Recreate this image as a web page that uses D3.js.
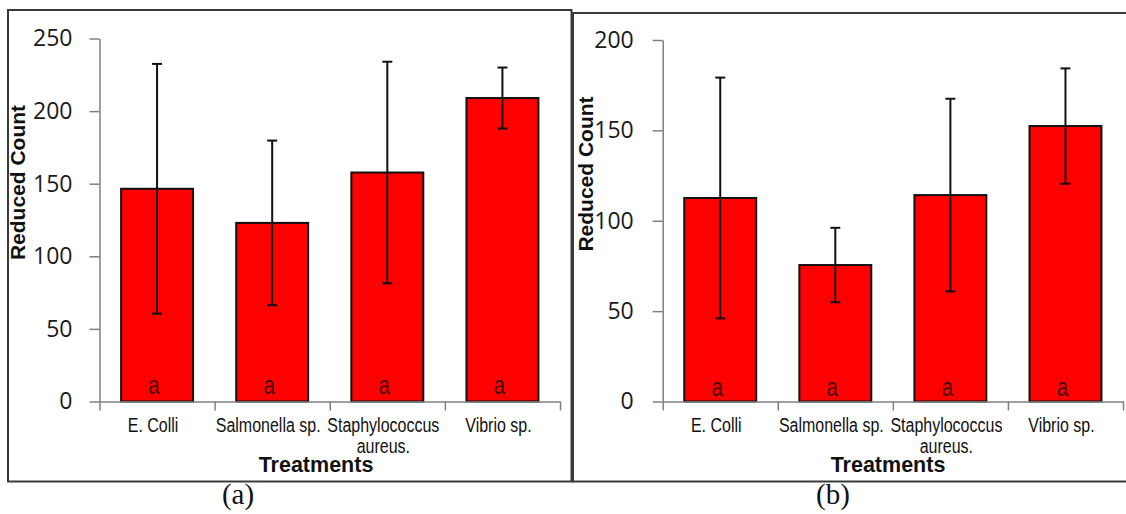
<!DOCTYPE html>
<html>
<head>
<meta charset="utf-8">
<script src="https://cdn.jsdelivr.net/npm/d3@7"></script>
<style>
body { margin: 0; background: #fff; }
svg { display: block; }
</style>
</head>
<body>
<svg id="chart" width="1126" height="514"></svg>
<script>
// data
var categories = ["E. Colli", "Salmonella sp.", "Staphylococcus aureus.", "Vibrio sp."];
var categoryLines = [["E. Colli"], ["Salmonella sp."], ["Staphylococcus", "aureus."], ["Vibrio sp."]];
var groupLetters = ["a", "a", "a", "a"];

var meansA = [146.5, 123, 157.7, 209];
var errorsA = [86, 56.7, 76.3, 21];
var ticksA = [0, 50, 100, 150, 200, 250];

var meansB = [112.6, 75.5, 114.2, 152.4];
var errorsB = [66.6, 20.6, 53.3, 31.9];
var ticksB = [0, 50, 100, 150, 200];

var svg = d3.select('#chart');
svg.append('rect').attr('width', 1126).attr('height', 514).attr('fill', '#fff');

var axisColor = '#808080';
// the labels in the figure use a condensed sans; squeeze a normal one
var narrow = 0.82;

function drawPanel(means, errs, ticks, p) {
    var g = svg.append('g');
    var y = d3.scaleLinear().domain([0, d3.max(ticks)]).range([p.y0, p.y1]);
    var x = d3.scaleBand().domain(categories).range([p.x0, p.x1])
        .paddingInner(0.375).paddingOuter(0.1875);
    var edges = d3.scaleLinear().domain([0, categories.length]).range([p.x0, p.x1]);

    // frame
    g.append('rect')
        .attr('x', p.frame[0]).attr('y', p.frame[1])
        .attr('width', p.frame[2]).attr('height', p.frame[3])
        .attr('fill', 'none').attr('stroke', '#3a3a3a').attr('stroke-width', 2);

    // y axis
    var ya = g.append('g')
        .attr('transform', 'translate(' + p.x0 + ',0)')
        .call(d3.axisLeft(y).tickValues(ticks).tickSize(10).tickSizeOuter(0)
            .tickPadding(p.tickPad).tickFormat(d3.format('d')));
    ya.select('.domain').attr('stroke', axisColor).attr('stroke-width', 1.5);
    ya.selectAll('.tick line').attr('stroke', axisColor).attr('stroke-width', 1.5);
    ya.selectAll('.tick text')
        .attr('fill', '#1a1a1a')
        .style('font-family', '"Open Sans", "Noto Sans", sans-serif')
        .style('font-size', '23px');

    // bars
    g.selectAll('rect.bar').data(means).enter().append('rect')
        .attr('class', 'bar')
        .attr('x', function (d, i) { return x(categories[i]); })
        .attr('y', function (d) { return y(d); })
        .attr('width', x.bandwidth())
        .attr('height', function (d) { return y(0) - y(d); })
        .attr('fill', '#ff0000')
        .attr('stroke', '#111')
        .attr('stroke-width', 2);

    // letters inside bars
    g.selectAll('text.grp').data(groupLetters).enter().append('text')
        .attr('class', 'grp')
        .attr('transform', function (d, i) {
            var cx = x(categories[i]) + x.bandwidth() / 2 - 3;
            return 'translate(' + cx + ',' + (p.y0 - p.letterLift) + ') scale(' + narrow + ',1)';
        })
        .attr('text-anchor', 'middle')
        .attr('fill', '#4a0606')
        .style('font-family', '"Liberation Sans", Arial, sans-serif')
        .style('font-size', '25px')
        .text(function (d) { return d; });

    // error bars
    var eb = g.selectAll('g.err').data(means).enter().append('g')
        .attr('class', 'err')
        .attr('stroke', '#111').attr('stroke-width', 2);
    eb.each(function (d, i) {
        var cx = x(categories[i]) + x.bandwidth() / 2;
        var lo = y(d - errs[i]), hi = y(d + errs[i]);
        var e = d3.select(this);
        e.append('line').attr('x1', cx).attr('x2', cx).attr('y1', lo).attr('y2', hi);
        e.append('line').attr('x1', cx - 5).attr('x2', cx + 5).attr('y1', lo).attr('y2', lo);
        e.append('line').attr('x1', cx - 5).attr('x2', cx + 5).attr('y1', hi).attr('y2', hi);
    });

    // x axis with ticks between categories
    var xa = g.append('g')
        .attr('transform', 'translate(0,' + p.y0 + ')')
        .call(d3.axisBottom(edges).tickValues(d3.range(0, categories.length + 1))
            .tickSize(9).tickSizeOuter(0).tickFormat(''));
    xa.select('.domain').attr('stroke', axisColor).attr('stroke-width', 1.5);
    xa.selectAll('.tick line').attr('stroke', axisColor).attr('stroke-width', 1.5);

    // category labels
    g.selectAll('text.cat').data(categoryLines).enter().append('text')
        .attr('class', 'cat')
        .attr('transform', function (d, i) {
            var cx = x(categories[i]) + x.bandwidth() / 2 - 4;
            return 'translate(' + cx + ',431.5) scale(' + narrow + ',1)';
        })
        .attr('text-anchor', 'middle')
        .attr('fill', '#111')
        .style('font-family', '"Liberation Sans", Arial, sans-serif')
        .style('font-size', '19.5px')
        .each(function (lines) {
            var t = d3.select(this);
            lines.forEach(function (s, k) {
                t.append('tspan').attr('x', 0).attr('y', k * 21.6).text(s);
            });
        });

    // axis titles
    g.append('text')
        .attr('x', p.titleX).attr('y', 471.5)
        .attr('text-anchor', 'middle')
        .attr('fill', '#111')
        .style('font-family', '"Liberation Sans", Arial, sans-serif')
        .style('font-weight', 'bold')
        .style('font-size', '21.5px')
        .text('Treatments');
    g.append('text')
        .attr('transform', 'translate(' + p.yTitleX + ',' + p.yTitleY + ') rotate(-90)')
        .attr('text-anchor', 'middle')
        .attr('fill', '#111')
        .style('font-family', '"Liberation Sans", Arial, sans-serif')
        .style('font-weight', 'bold')
        .style('font-size', '21px')
        .text('Reduced Count');

    // caption
    g.append('text')
        .attr('x', p.captionX).attr('y', 504)
        .attr('text-anchor', 'middle')
        .attr('fill', '#111')
        .style('font-family', '"Liberation Serif", "Times New Roman", serif')
        .style('font-size', '29px')
        .text(p.caption);
}

drawPanel(meansA, errorsA, ticksA, {
    frame: [8, 10, 563.5, 471.5],
    x0: 99.5, x1: 560, y0: 401.5, y1: 38.5,
    tickPad: 17, letterLift: 8,
    titleX: 316, yTitleX: 25, yTitleY: 182.5,
    captionX: 238, caption: '(a)'
});

drawPanel(meansB, errorsB, ticksB, {
    frame: [573, 13, 560, 468.5],
    x0: 662.7, x1: 1123, y0: 401.5, y1: 40,
    tickPad: 19, letterLift: 6,
    titleX: 888, yTitleX: 593, yTitleY: 174,
    captionX: 833, caption: '(b)'
});
</script>
</body>
</html>
